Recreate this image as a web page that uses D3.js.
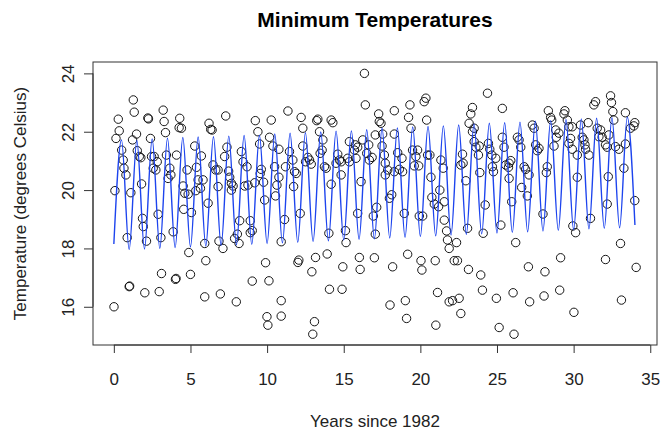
<!DOCTYPE html>
<html>
  <head>
    <meta charset="utf-8">
    <title>Minimum Temperatures</title>
    <script src="https://d3js.org/d3.v7.min.js" charset="utf-8"></script>
    <style>
      body { margin: 0; background: #fff; }
      svg { font-family: "Liberation Sans", Arial, Helvetica, sans-serif; }
    </style>
  </head>
  <body>
    <div id="main"></div>
  <script>
    // observed monthly minimum temperatures: [years since 1982, degrees C]
    var obs = [
      [1.27,23.09],[1.33,22.67],[0.29,22.43],[2.22,22.47],[2.26,22.44],[3.22,22.74],[3.28,22.35],[4.30,22.46],
      [4.26,22.14],[4.41,22.12],[0.35,22.03],[0.14,21.77],[1.48,21.92],[1.22,21.72],[2.39,21.77],[3.37,21.97],
      [0.51,21.37],[1.53,21.35],[1.66,21.15],[1.76,21.11],[0.61,21.03],[2.46,21.15],[2.63,21.15],[2.83,20.97],
      [2.57,20.75],[2.74,20.69],[0.66,20.75],[0.79,20.52],[3.43,21.20],[4.09,21.20],[3.65,20.75],[3.72,20.52],
      [3.54,20.40],[4.78,20.69],[0.07,19.98],[1.11,19.91],[1.81,20.21],[4.52,20.14],[4.63,19.89],[4.85,19.86],
      [4.56,19.34],[5.06,19.23],[1.87,19.03],[1.92,18.75],[2.89,19.17],[3.87,18.57],[0.87,18.37],[2.13,18.25],
      [3.07,18.37],[4.89,17.86],[3.11,17.14],[4.02,16.94],[4.06,16.97],[5.00,17.11],[1.00,16.69],[1.03,16.71],
      [2.02,16.48],[2.96,16.52],[0.01,16.00],
      [7.30,22.54],[6.21,22.29],[6.32,22.08],[6.41,22.06],[9.23,22.38],[10.27,22.40],[9.40,22.00],[10.16,21.81],
      [5.28,21.51],[5.71,21.17],[5.39,20.78],[5.50,20.35],[5.82,20.35],[5.35,19.98],[5.65,20.06],[7.38,21.47],
      [7.23,21.15],[6.47,20.86],[6.65,20.69],[6.80,20.69],[7.49,20.65],[7.56,20.44],[7.67,20.23],[7.78,20.14],
      [7.67,20.00],[6.80,20.12],[6.15,19.55],[8.32,21.32],[8.43,20.97],[8.69,20.80],[8.54,20.14],[8.75,20.17],
      [9.19,20.25],[9.51,21.58],[9.62,20.71],[9.55,20.57],[9.77,20.27],[10.38,21.51],[10.77,21.40],[10.49,20.80],
      [10.77,20.44],[10.64,20.17],[10.55,19.80],[9.84,19.66],[8.21,18.95],[8.06,18.49],[8.90,18.95],[8.90,18.54],
      [9.03,18.61],[5.93,18.17],[6.86,18.25],[7.12,18.00],[7.88,18.34],[8.17,18.17],[10.92,18.23],[6.00,17.58],
      [9.90,17.51],[9.03,16.88],[10.12,16.89],[5.93,16.34],[6.95,16.44],[7.99,16.17],[10.92,16.21],[9.99,15.66],
      [10.05,15.37],[10.92,15.68],
      [16.35,24.00],[16.41,22.92],[11.36,22.71],[12.22,22.49],[12.33,22.12],[13.31,22.43],[13.24,22.38],[14.18,22.40],
      [14.29,22.31],[13.42,22.00],[13.64,21.72],[15.37,21.66],[15.76,21.55],[15.91,21.47],[16.24,21.72],[16.63,21.55],
      [11.46,21.32],[11.68,21.03],[11.20,20.80],[11.79,20.63],[11.90,20.57],[12.33,21.51],[12.66,21.12],[12.77,21.03],
      [12.88,20.89],[12.51,20.97],[13.46,21.26],[13.59,21.37],[13.74,20.80],[13.85,20.75],[14.61,21.23],[14.72,21.03],
      [14.50,20.92],[14.83,20.97],[14.83,20.52],[15.26,21.09],[15.37,20.97],[15.70,21.37],[15.80,21.09],[16.50,21.26],
      [16.67,21.03],[11.73,20.12],[14.18,20.20],[16.13,20.29],[11.14,18.99],[12.16,19.20],[15.91,19.20],[14.03,18.52],
      [15.11,18.61],[15.15,18.20],[13.16,17.69],[13.92,17.81],[12.07,17.60],[12.01,17.52],[12.92,17.20],[14.94,17.37],
      [16.02,17.69],[16.07,17.28],[14.07,16.60],[14.89,16.60],[13.09,15.49],[12.98,15.06],
      [20.36,23.15],[20.25,23.03],[19.32,22.92],[18.30,22.72],[17.28,22.61],[17.32,22.35],[17.43,22.29],[19.23,22.49],
      [20.41,22.40],[19.39,22.12],[17.54,21.92],[18.30,21.92],[17.06,21.89],[16.85,21.12],[17.50,21.51],[17.65,21.20],
      [17.71,20.92],[17.87,20.69],[17.71,20.52],[18.52,21.28],[18.80,21.09],[18.30,20.63],[18.63,20.71],[18.84,20.63],
      [19.49,21.37],[19.82,21.37],[19.71,21.15],[19.89,20.83],[19.60,20.83],[20.47,21.20],[20.62,21.20],[21.34,21.03],
      [21.49,20.75],[20.69,20.44],[22.64,20.86],[22.75,21.23],[17.98,19.72],[18.13,19.84],[17.15,19.41],[16.93,19.11],
      [18.95,19.20],[19.93,19.11],[20.15,19.11],[20.75,19.75],[20.91,19.52],[21.27,20.00],[21.19,19.43],[21.56,19.60],
      [21.56,18.97],[21.71,18.60],[21.77,18.29],[21.88,18.00],[22.36,18.20],[17.06,18.49],[17.00,17.68],[18.19,17.37],
      [19.17,17.80],[20.04,17.58],[20.10,17.26],[20.97,17.58],[22.21,17.58],[22.42,17.58],[21.12,16.49],[18.02,16.06],
      [19.02,16.21],[19.10,15.60],[21.01,15.37],[21.88,16.17],[22.10,16.21],[22.53,16.29],[22.64,15.77],
      [24.38,23.32],[25.35,22.80],[23.40,22.83],[23.29,22.61],[23.18,22.29],[23.51,22.12],[23.40,22.00],[28.35,22.72],
      [28.50,22.49],[28.57,22.40],[27.31,22.23],[27.42,22.12],[25.35,21.81],[25.46,21.47],[26.33,21.81],[26.44,21.72],
      [26.55,21.47],[27.52,21.55],[27.74,21.43],[27.63,21.35],[23.51,21.66],[23.62,21.47],[23.84,21.51],[24.44,21.60],
      [24.53,21.40],[24.66,21.20],[24.92,21.09],[23.79,21.20],[22.79,20.92],[24.70,20.80],[24.77,20.63],[25.57,20.86],
      [25.79,20.92],[25.90,21.01],[25.75,20.78],[26.77,20.80],[26.87,20.71],[27.09,20.52],[28.28,20.80],[28.22,20.60],
      [23.88,20.60],[22.97,20.32],[25.79,20.40],[26.61,20.09],[26.98,19.80],[24.23,19.49],[25.96,19.60],[28.00,19.18],
      [23.08,18.69],[24.10,18.52],[25.25,18.80],[26.22,18.20],[23.14,17.28],[23.94,17.09],[27.05,17.37],[28.13,17.20],
      [24.05,16.57],[24.96,16.29],[26.05,16.48],[27.13,16.17],[28.07,16.37],[25.14,15.29],[26.11,15.06],
      [32.41,23.23],[32.47,23.00],[31.43,23.03],[31.32,22.92],[29.43,22.72],[29.37,22.61],[33.38,22.65],[33.99,22.31],
      [33.93,22.20],[33.71,22.12],[32.56,22.69],[32.62,22.40],[29.59,22.40],[29.69,22.17],[30.95,22.31],[30.45,22.23],
      [30.56,21.81],[30.67,21.72],[28.83,22.06],[29.04,21.95],[28.87,21.81],[29.91,22.17],[29.80,21.77],[29.69,21.60],
      [31.54,22.12],[31.76,22.06],[31.65,21.83],[31.86,21.81],[32.30,21.89],[32.08,21.55],[32.19,21.47],[32.73,21.49],
      [32.95,21.40],[33.38,21.58],[28.72,21.51],[29.91,21.40],[30.24,21.20],[30.74,21.55],[30.78,21.40],[31.00,21.20],
      [33.28,20.75],[30.24,20.44],[32.26,20.46],[33.99,19.64],[32.19,19.52],[31.10,19.03],[29.95,18.77],[30.13,18.54],
      [33.06,18.17],[29.15,17.68],[32.08,17.62],[34.08,17.35],[29.09,16.57],[33.12,16.23],[30.02,15.81]
    ];

    // fitted seasonal curve: troughs at whole years, peaks half a year later
    var fitTroughTemps = [18.15, 17.96, 17.98, 18.00, 18.03, 18.05, 18.08, 18.10, 18.12, 18.14, 18.17, 18.19,
                          18.21, 18.24, 18.26, 18.29, 18.31, 18.33, 18.36, 18.38, 18.41, 18.43, 18.46, 18.48,
                          18.50, 18.53, 18.55, 18.57, 18.60, 18.62, 18.64, 18.67, 18.69, 18.71, 18.80];
    var fitPeakTemps = [21.72, 21.70, 21.75, 21.78, 21.80, 21.82, 21.83, 21.85, 21.87, 21.88, 21.92, 21.95,
                        21.97, 21.99, 22.02, 22.03, 22.07, 22.12, 22.13, 22.16, 22.18, 22.20, 22.23, 22.27,
                        22.29, 22.31, 22.33, 22.36, 22.38, 22.42, 22.44, 22.46, 22.48, 22.50];

    var xTicks = [0, 5, 10, 15, 20, 25, 30, 35];
    var yTicks = [16, 18, 20, 22, 24];

    var svgWidth = 664, svgHeight = 431;
    var box = { left: 93, right: 657, top: 62, bottom: 345 };

    var svg = d3.select('#main').append('svg')
      .attr('width', svgWidth)
      .attr('height', svgHeight);

    // R style: data range plus 4% on each side
    var x = d3.scaleLinear().domain([-1.36, 35.44]).range([box.left, box.right]);
    var y = d3.scaleLinear().domain([14.69, 24.39]).range([box.bottom, box.top]);

    // fitted line points
    var fit = [];
    fitTroughTemps.forEach(function(v, k) {
      fit.push([k, v]);
      if (k < fitPeakTemps.length) fit.push([k + 0.5, fitPeakTemps[k]]);
    });

    // points
    svg.append('g').selectAll('circle')
      .data(obs)
      .enter()
      .append('circle')
      .attr('cx', function(d) { return x(d[0]); })
      .attr('cy', function(d) { return y(d[1]); })
      .attr('r', 4.2)
      .attr('fill', 'none')
      .attr('stroke', '#151515')
      .attr('stroke-width', 1);

    var line = d3.line()
      .x(function(d) { return x(d[0]); })
      .y(function(d) { return y(d[1]); })
      .curve(d3.curveMonotoneX);

    svg.append('path')
      .datum(fit)
      .attr('d', line)
      .attr('fill', 'none')
      .attr('stroke', '#1d44ee')
      .attr('stroke-width', 1.4);

    // plot box
    svg.append('rect')
      .attr('x', box.left).attr('y', box.top)
      .attr('width', box.right - box.left).attr('height', box.bottom - box.top)
      .attr('fill', 'none').attr('stroke', '#333').attr('stroke-width', 1);

    // x axis
    var xAxis = svg.append('g')
      .attr('transform', 'translate(0,' + box.bottom + ')')
      .call(d3.axisBottom(x).tickValues(xTicks).tickSize(8).tickSizeOuter(0).tickPadding(20));
    xAxis.select('.domain').remove();
    xAxis.append('line')
      .attr('x1', x(xTicks[0])).attr('x2', x(xTicks[xTicks.length - 1]))
      .attr('stroke', '#333');
    xAxis.selectAll('.tick line').attr('stroke', '#333');
    xAxis.selectAll('.tick text')
      .attr('fill', '#222')
      .style('font-size', '17px')
      .style('font-family', '"Liberation Sans", Arial, sans-serif');

    // y axis
    var yAxis = svg.append('g')
      .attr('transform', 'translate(' + box.left + ',0)')
      .call(d3.axisLeft(y).tickValues(yTicks).tickSize(9).tickSizeOuter(0));
    yAxis.select('.domain').remove();
    yAxis.append('line')
      .attr('y1', y(yTicks[0])).attr('y2', y(yTicks[yTicks.length - 1]))
      .attr('stroke', '#333');
    yAxis.selectAll('.tick line').attr('stroke', '#333');
    yAxis.selectAll('.tick text')
      .attr('x', null).attr('dy', null)
      .attr('text-anchor', 'middle')
      .attr('transform', 'translate(-19,0) rotate(-90)')
      .attr('fill', '#222')
      .style('font-size', '17px')
      .style('font-family', '"Liberation Sans", Arial, sans-serif');

    // titles
    svg.append('text')
      .attr('x', (box.left + box.right) / 2).attr('y', 27)
      .attr('text-anchor', 'middle')
      .style('font-size', '21px').style('font-weight', 'bold')
      .text('Minimum Temperatures');

    svg.append('text')
      .attr('x', (box.left + box.right) / 2).attr('y', 427)
      .attr('text-anchor', 'middle')
      .style('font-size', '17px').attr('fill', '#222')
      .text('Years since 1982');

    svg.append('text')
      .attr('transform', 'translate(26,' + ((box.top + box.bottom) / 2) + ') rotate(-90)')
      .attr('text-anchor', 'middle')
      .style('font-size', '17px').attr('fill', '#222')
      .text('Temperature (degrees Celsius)');
  </script>
  </body>
</html>
